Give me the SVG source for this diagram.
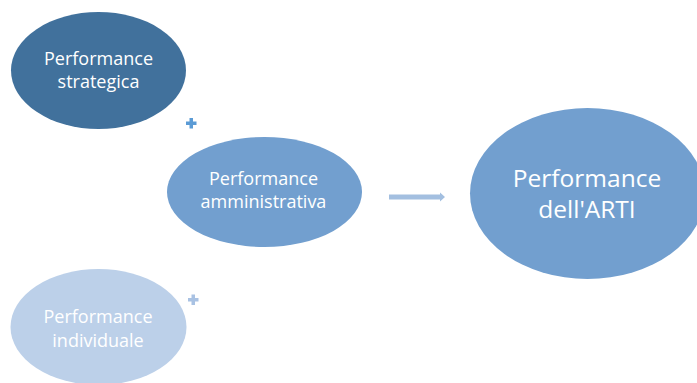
<svg xmlns="http://www.w3.org/2000/svg" width="697" height="383" viewBox="0 0 697 383">
<style>
.t{font-family:"Open Sans","Liberation Sans",sans-serif;fill:#fff;text-anchor:middle}
.s{font-size:18px}
.b{font-size:24.5px}
</style>
<rect width="697" height="383" fill="#fff"/>
<g id="n-strategica">
<ellipse cx="98.5" cy="70.5" rx="87.5" ry="58.5" fill="#41719C"/>
<text class="t s" x="98.5" y="65">Performance</text>
<text class="t s" x="98.5" y="88">strategica</text>
</g>
<g id="n-amministrativa">
<ellipse cx="264.5" cy="192" rx="97.5" ry="55" fill="#729FCF"/>
<text class="t s" x="263.5" y="185">Performance</text>
<text class="t s" x="263.5" y="208">amministrativa</text>
</g>
<g id="n-individuale">
<ellipse cx="98.5" cy="327" rx="88" ry="58" fill="#BCD0E9"/>
<text class="t s" x="98" y="323">Performance</text>
<text class="t s" x="98" y="347">individuale</text>
</g>
<g id="n-arti">
<ellipse cx="587.5" cy="193.5" rx="117.5" ry="85.5" fill="#729FCF"/>
<text class="t b" x="587" y="187">Performance</text>
<text class="t b" x="587" y="218">dell'ARTI</text>
</g>
<g id="connectors">
<path d="M389 194.5 H440 V192.5 L445 197 L440 201.5 V199.5 H389 Z" fill="#A3BFE0"/>
<path d="M186 121.5 h3.5 v-3.5 h3.5 v3.5 h3.5 v3.5 h-3.5 v3.5 h-3.5 v-3.5 h-3.5 Z" fill="#5B9BD5"/>
<path d="M188 298 h3.5 v-3.5 h3.5 v3.5 h3.5 v3.5 h-3.5 v3.5 h-3.5 v-3.5 h-3.5 Z" fill="#A9C2E3"/>
</g>
</svg>
